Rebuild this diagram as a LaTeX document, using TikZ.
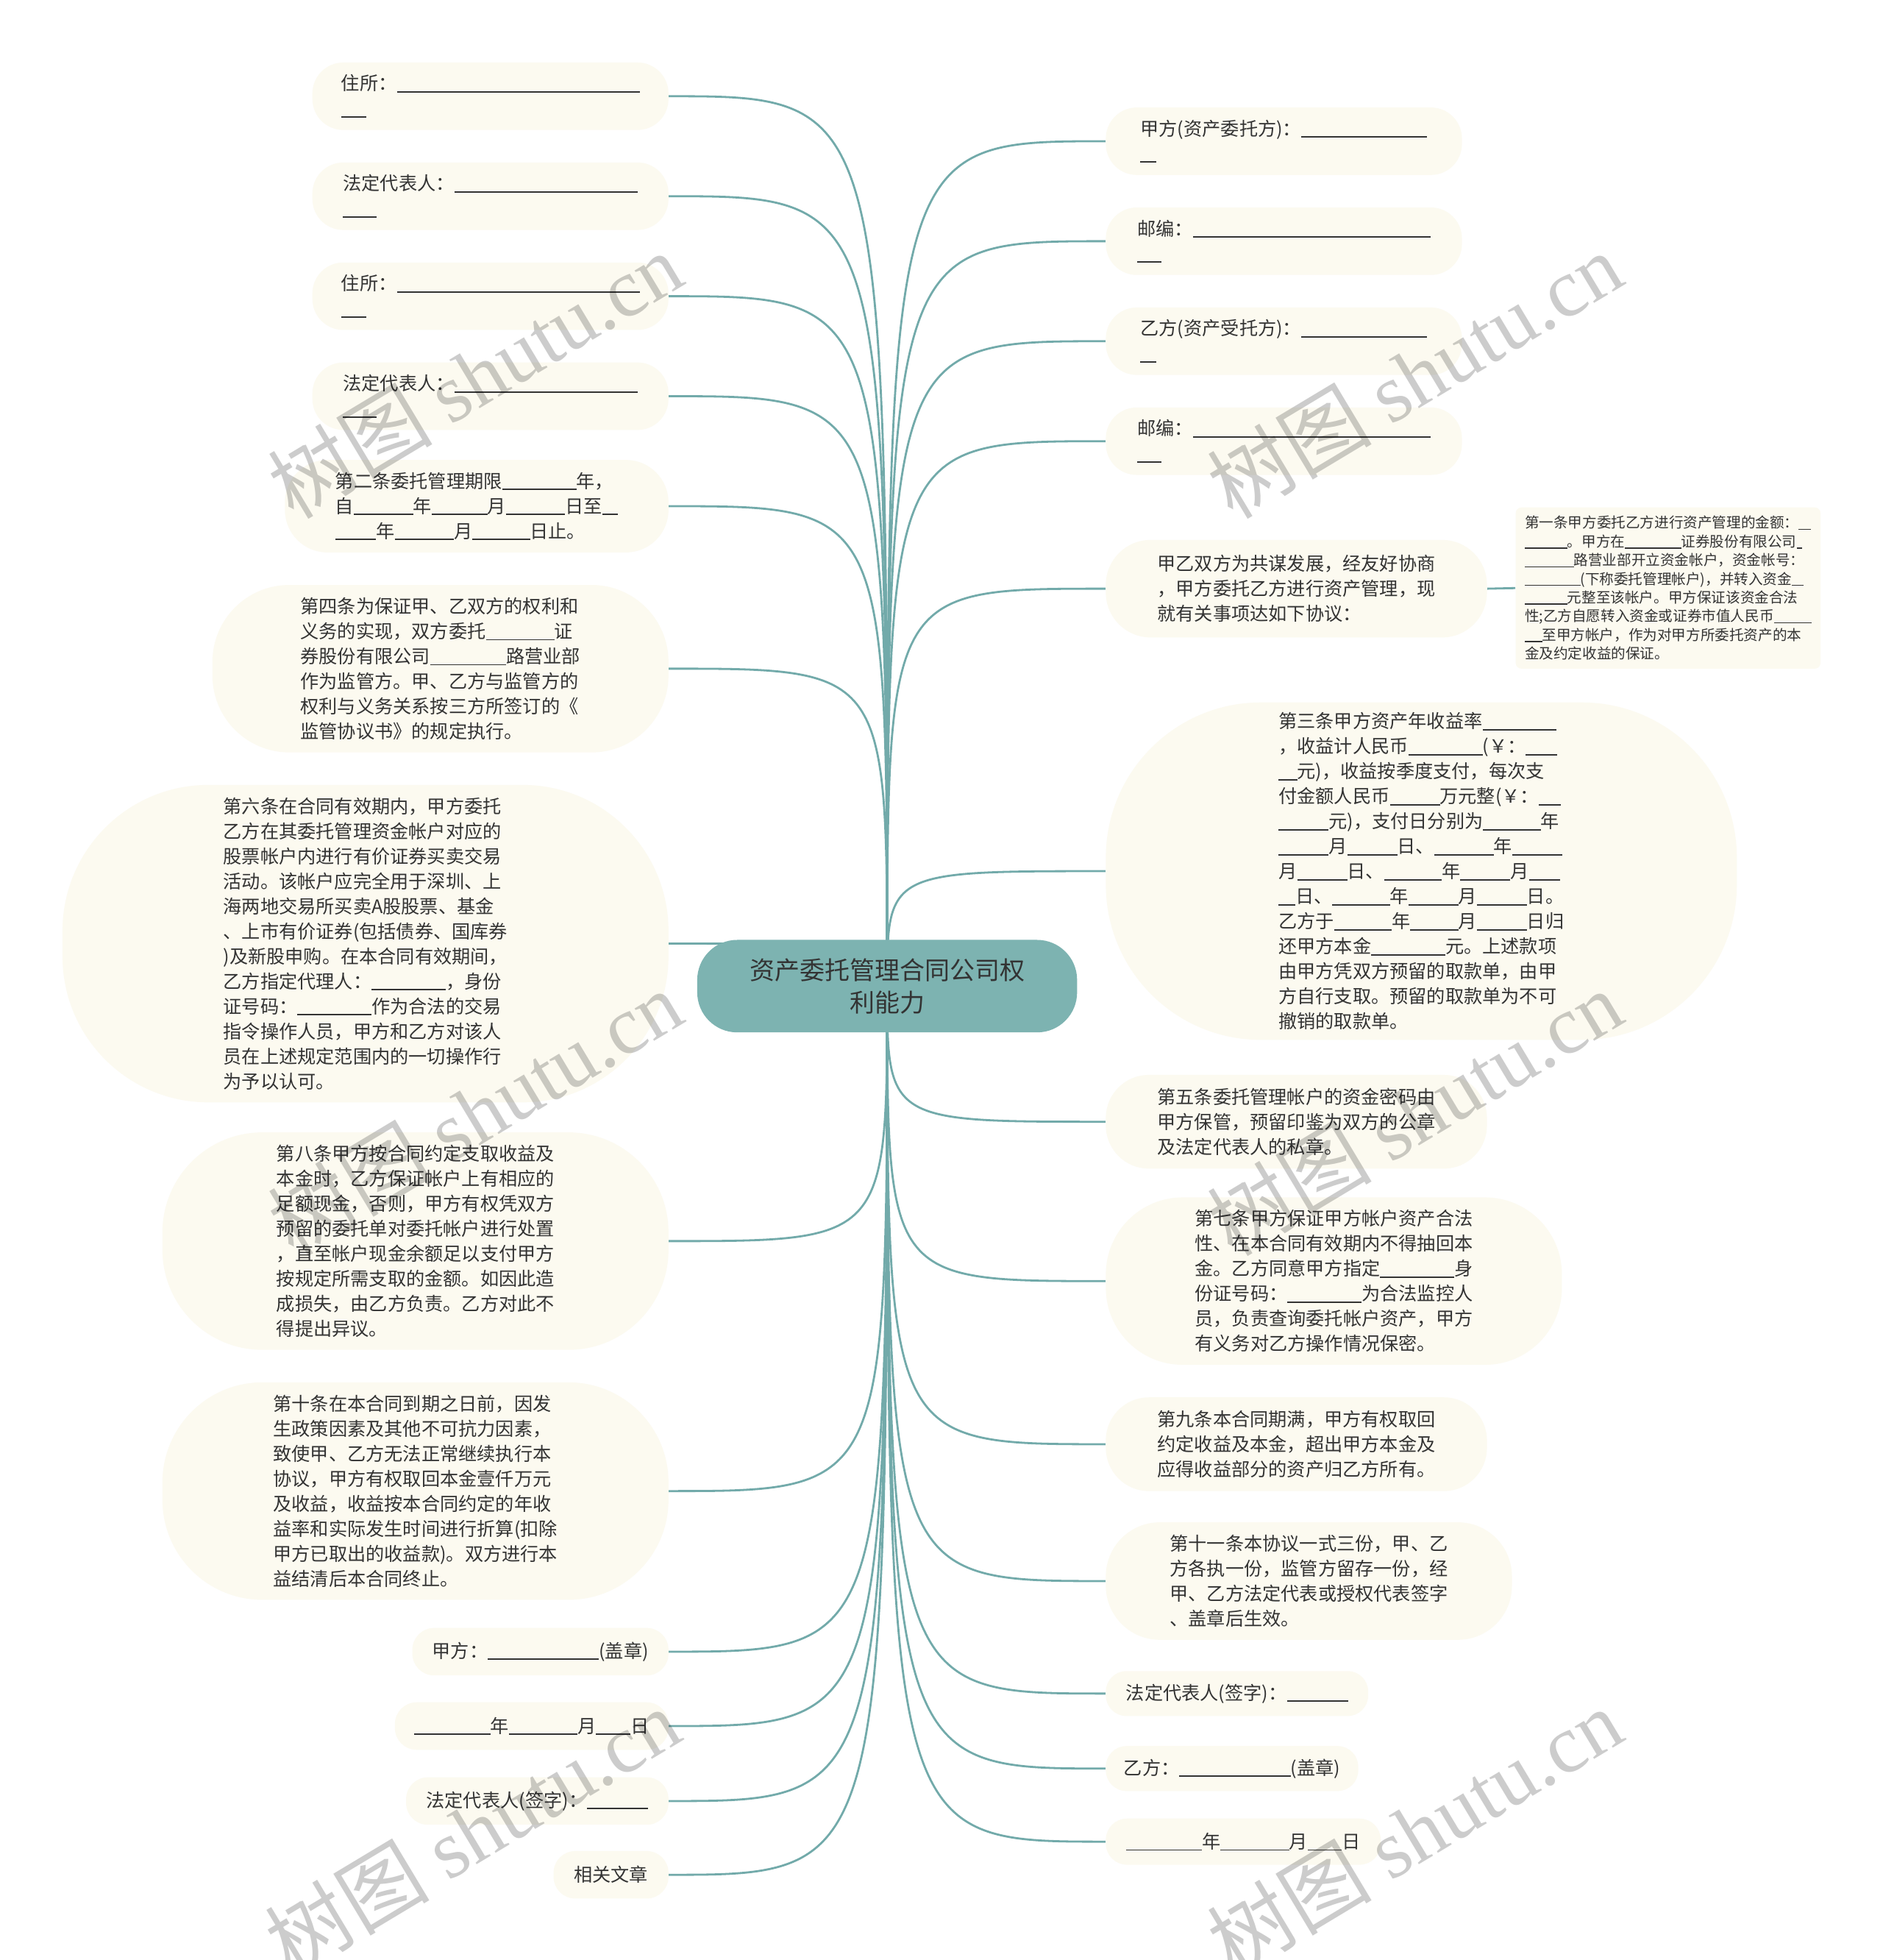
\documentclass[tikz,border=0pt]{standalone}
\usepackage{fontspec}
\setmainfont{Noto Sans CJK SC}
\newfontfamily\wmlatin{Liberation Serif}
\usetikzlibrary{backgrounds}
\definecolor{nodefill}{HTML}{FCFAF0}
\definecolor{hubfill}{HTML}{7DB3B1}
\definecolor{linkc}{HTML}{72AAAA}
\definecolor{txt}{HTML}{333333}
\newcommand\bl[1]{\rule[-0.12em]{#1em}{0.07em}}
\tikzset{
  leaf/.style 2 args={draw=none, fill=nodefill, text=txt, inner sep=0pt, align=left,
    font=\fontsize{12.6}{17}\selectfont,
    minimum width=#1*0.8494pt, minimum height=#2*0.8494pt,
    rounded corners=#2*0.46*0.8494pt},
  smallleaf/.style 2 args={draw=none, fill=nodefill, text=txt, inner sep=0pt, align=left,
    font=\fontsize{9.8}{12.7}\selectfont,
    minimum width=#1*0.8494pt, minimum height=#2*0.8494pt,
    rounded corners=4pt},
  hub/.style={draw=none, fill=hubfill, text=txt, inner sep=0pt, align=center,
    font=\fontsize{17}{22}\selectfont,
    minimum width=304*0.8494pt, minimum height=74*0.8494pt,
    rounded corners=32*0.8494pt},
  link/.style={draw=linkc, line width=1.4pt},
  wm/.style={font=\fontsize{56}{56}\selectfont, text=black, opacity=0.2, inner sep=0pt}
}
\begin{document}
\begin{tikzpicture}[x=0.8494pt, y=-0.8494pt]
\useasboundingbox (0,0) rectangle (1506.9,1568.2);

\node[hub] (hub) at (710,789) {资产委托管理合同公司权\\利能力};

% left side
\node[leaf={285}{54}] (A1) at (392.5,77) {住所：\bl{13.1}\\\bl{1.36}};
\node[leaf={285}{54}] (A2) at (392.5,157) {法定代表人：\bl{9.9}\\\bl{1.8}};
\node[leaf={285}{54}] (A3) at (392.5,237) {住所：\bl{13.1}\\\bl{1.36}};
\node[leaf={285}{54}] (A4) at (392.5,317) {法定代表人：\bl{9.9}\\\bl{1.8}};
\node[leaf={307}{74}] (A5) at (381.5,405) {第二条委托管理期限\bl{4}年，\\自\bl{3.2}年\bl{3}月\bl{3.2}日至\bl{0.85}\\\bl{2.2}年\bl{3.2}月\bl{3.1}日止。};
\node[leaf={365}{134}] (A6) at (352.5,535) {第四条为保证甲、乙双方的权利和\\义务的实现，双方委托\bl{3.7}证\\券股份有限公司\bl{4.1}路营业部\\作为监管方。甲、乙方与监管方的\\权利与义务关系按三方所签订的《\\监管协议书》的规定执行。};
\node[leaf={485}{254}] (A7) at (292.5,755) {第六条在合同有效期内，甲方委托\\乙方在其委托管理资金帐户对应的\\股票帐户内进行有价证券买卖交易\\活动。该帐户应完全用于深圳、上\\海两地交易所买卖A股股票、基金\\、上市有价证券(包括债券、国库券\\)及新股申购。在本合同有效期间，\\乙方指定代理人：\bl{4}，身份\\证号码：\bl{4}作为合法的交易\\指令操作人员，甲方和乙方对该人\\员在上述规定范围内的一切操作行\\为予以认可。};
\node[leaf={405}{174}] (A8) at (332.5,993) {第八条甲方按合同约定支取收益及\\本金时，乙方保证帐户上有相应的\\足额现金，否则，甲方有权凭双方\\预留的委托单对委托帐户进行处置\\，直至帐户现金余额足以支付甲方\\按规定所需支取的金额。如因此造\\成损失，由乙方负责。乙方对此不\\得提出异议。};
\node[leaf={405}{174}] (A9) at (332.5,1193) {第十条在本合同到期之日前，因发\\生政策因素及其他不可抗力因素，\\致使甲、乙方无法正常继续执行本\\协议，甲方有权取回本金壹仟万元\\及收益，收益按本合同约定的年收\\益率和实际发生时间进行折算(扣除\\甲方已取出的收益款)。双方进行本\\益结清后本合同终止。};
\node[leaf={205}{38}] (A10) at (432.5,1321.5) {甲方：\bl{6}(盖章)};
\node[leaf={219}{38}] (A11) at (425.5,1381) {\bl{4.1}年\bl{3.7}月\bl{1.85}日};
\node[leaf={210}{38}] (A12) at (430,1441) {法定代表人(签字)：\bl{3.3}};
\node[leaf={92}{38}] (A13) at (489,1500) {相关文章};

% right side
\node[leaf={285}{54}] (B1) at (1027.5,113) {甲方(资产委托方)：\bl{6.8}\\\bl{0.87}};
\node[leaf={285}{54}] (B2) at (1027.5,193) {邮编：\bl{12.8}\\\bl{1.3}};
\node[leaf={285}{54}] (B3) at (1027.5,273) {乙方(资产受托方)：\bl{6.8}\\\bl{0.87}};
\node[leaf={285}{54}] (B4) at (1027.5,353) {邮编：\bl{12.8}\\\bl{1.3}};
\node[leaf={305}{78}] (B5) at (1037.5,471) {甲乙双方为共谋发展，经友好协商\\，甲方委托乙方进行资产管理，现\\就有关事项达如下协议：};
\node[smallleaf={244}{129}] (B5a) at (1335,470.5) {第一条甲方委托乙方进行资产管理的金额：\bl{0.85}\\\bl{2.95}。甲方在\bl{3.9}证券股份有限公司\bl{0.4}\\\bl{3.4}路营业部开立资金帐户，资金帐号：\\\bl{3.85}(下称委托管理帐户)，并转入资金\bl{0.8}\\\bl{2.95}元整至该帐户。甲方保证该资金合法\\性;乙方自愿转入资金或证券市值人民币\bl{2.6}\\\bl{1.2}至甲方帐户，作为对甲方所委托资产的本\\金及约定收益的保证。};
\node[leaf={505}{270}] (B6) at (1137.5,697) {第三条甲方资产年收益率\bl{4}\\，收益计人民币\bl{4}(￥：\bl{1.7}\\\bl{1}元)，收益按季度支付，每次支\\付金额人民币\bl{2.7}万元整(￥：\bl{1.2}\\\bl{2.7}元)，支付日分别为\bl{3.1}年\\\bl{2.7}月\bl{2.7}日、\bl{3.2}年\bl{2.7}\\月\bl{2.7}日、\bl{3.1}年\bl{2.7}月\bl{1.7}\\\bl{0.9}日、\bl{3.1}年\bl{2.7}月\bl{2.7}日。\\乙方于\bl{3.1}年\bl{2.6}月\bl{2.7}日归\\还甲方本金\bl{4}元。上述款项\\由甲方凭双方预留的取款单，由甲\\方自行支取。预留的取款单为不可\\撤销的取款单。};
\node[leaf={305}{75}] (B7) at (1037.5,897.5) {第五条委托管理帐户的资金密码由\\甲方保管，预留印鉴为双方的公章\\及法定代表人的私章。};
\node[leaf={365}{134}] (B8) at (1067.5,1025) {第七条甲方保证甲方帐户资产合法\\性、在本合同有效期内不得抽回本\\金。乙方同意甲方指定\bl{4}身\\份证号码：\bl{4}为合法监控人\\员，负责查询委托帐户资产，甲方\\有义务对乙方操作情况保密。};
\node[leaf={305}{75}] (B9) at (1037.5,1155.5) {第九条本合同期满，甲方有权取回\\约定收益及本金，超出甲方本金及\\应得收益部分的资产归乙方所有。};
\node[leaf={325}{94}] (B10) at (1047.5,1265) {第十一条本协议一式三份，甲、乙\\方各执一份，监管方留存一份，经\\甲、乙方法定代表或授权代表签字\\、盖章后生效。};
\node[leaf={210}{36}] (B11) at (990,1355) {法定代表人(签字)：\bl{3.3}};
\node[leaf={202}{36}] (B12) at (986,1415) {乙方：\bl{6}(盖章)};
\node[leaf={220}{37}] (B13) at (995,1473.5) {\bl{4.1}年\bl{3.7}月\bl{1.85}日};

\begin{scope}[on background layer]
  \fill[white] (0,0) rectangle (1506.9,1568.2);
  \foreach \n in {A1,A2,A3,A4,A5,A6,A7,A8,A9,A10,A11,A12,A13}
    \draw[link] (hub.center) .. controls (hub.center |- \n.east) .. (\n.east);
  \foreach \n in {B1,B2,B3,B4,B5,B6,B7,B8,B9,B10,B11,B12,B13}
    \draw[link] (hub.center) .. controls (hub.center |- \n.west) .. (\n.west);
  \draw[link] (B5.east) -- (B5a.west);
\end{scope}

% watermarks
\node[wm, rotate=31] (wm1) at (380,300) {树图 {\wmlatin shutu.cn}};
\node[wm, rotate=31] (wm2) at (1132,300) {树图 {\wmlatin shutu.cn}};
\node[wm, rotate=31] (wm3) at (380,890) {树图 {\wmlatin shutu.cn}};
\node[wm, rotate=31] (wm4) at (1132,890) {树图 {\wmlatin shutu.cn}};
\node[wm, rotate=31] (wm5) at (378,1465) {树图 {\wmlatin shutu.cn}};
\node[wm, rotate=31] (wm6) at (1132,1465) {树图 {\wmlatin shutu.cn}};
\end{tikzpicture}
\end{document}
